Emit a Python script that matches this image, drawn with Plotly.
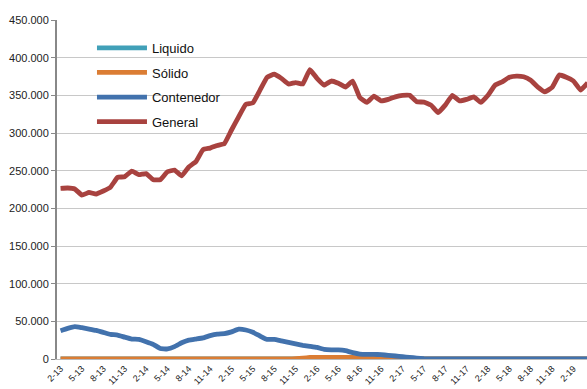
import pandas as pd
import plotly.graph_objects as go

# Monthly categories Feb 2013 - Apr 2019, labelled "m-yy"
months = [f"{d.month}-{d.year % 100:02d}" for d in pd.date_range("2013-02-01", "2019-04-01", freq="MS")]
tick_labels = ["2-13", "5-13", "8-13", "11-13", "2-14", "5-14", "8-14", "11-14",
               "2-15", "5-15", "8-15", "11-15", "2-16", "5-16", "8-16", "11-16",
               "2-17", "5-17", "8-17", "11-17", "2-18", "5-18", "8-18", "11-18", "2-19"]

general = [226500, 227000, 225600, 217600, 221000, 219000, 223000, 228000, 241000, 242000,
           249500, 244600, 246000, 238000, 238000, 248500, 250800, 243000, 255000, 262000,
           278000, 280000, 283500, 286000, 304000, 321500, 338000, 340000, 357000, 374000,
           378000, 372500, 365000, 367000, 365000, 384000, 372500, 363600, 369000, 366000,
           361000, 369000, 347000, 340600, 349000, 342700, 344600, 348000, 350000, 350000,
           341500, 341000, 337000, 327000, 337000, 350000, 342700, 344600, 348000, 340600,
           350000, 363600, 368000, 374000, 375600, 374600, 370000, 361000, 354700, 360500,
           377000, 374000, 369000, 357000, 366600]

contenedor = [37600, 40700, 43000, 41500, 39800, 38000, 35400, 32700, 31800, 29000,
              26500, 26000, 23000, 19500, 14000, 13300, 16400, 21500, 25000, 26500,
              28000, 31000, 33000, 33600, 36000, 39500, 38500, 35400, 30500, 26000,
              26000, 24000, 22000, 20000, 18200, 16800, 15300, 12700, 12000, 12000,
              11000, 8400, 6600, 6200, 6200, 5700, 4900, 4000, 3000, 2200,
              1300, 400, 0, 0, 0, 0, 0, 0, 0, 0,
              0, 0, 0, 0, 0, 0, 0, 0, 0, 0,
              0, 0, 0, 0, 0]

solido = [0] * 33 + [500, 1200, 2000, 2200, 2200, 2200, 2200, 2200, 2000, 1800, 1600,
                     1400, 1200, 1000, 800, 600, 400, 200, 0] + [0] * 23

liquido = [0] * len(months)

series = [
    ("Liquido", liquido, "#41A0B8"),
    ("Sólido", solido, "#DB7D34"),
    ("Contenedor", contenedor, "#4272AD"),
    ("General", general, "#A8423F"),
]

fig = go.Figure()
for i, (name, values, color) in enumerate(series):
    fig.add_trace(go.Scatter(
        x=months, y=values, name=name, mode="lines",
        line=dict(color=color, width=4.8, shape="spline", smoothing=0.3),
        legendgroup=f"g{i}",
    ))

fig.update_layout(
    width=587, height=389,
    margin=dict(l=57, r=0, t=20, b=30),
    paper_bgcolor="white", plot_bgcolor="white",
    separators=",.",
    font=dict(family="Liberation Sans, Arial, sans-serif", color="#222222"),
    showlegend=True,
    legend=dict(
        x=0.066, y=0.962, xanchor="left", yanchor="top",
        bgcolor="rgba(0,0,0,0)", font=dict(size=13, color="#111111"),
        tracegroupgap=4.7, itemwidth=50,
    ),
    xaxis=dict(
        type="category", categoryorder="array", categoryarray=months,
        range=[-0.5, 73.9],
        tickmode="array", tickvals=tick_labels, ticktext=tick_labels,
        tickangle=-45, tickfont=dict(size=9, color="#222222"),
        showgrid=False, ticks="", showline=True, linecolor="#BBBBBB", linewidth=1,
        zeroline=False,
    ),
    yaxis=dict(
        range=[0, 450000], dtick=50000, tickformat=",.0f",
        tickfont=dict(size=11, color="#222222"),
        showgrid=True, gridcolor="#C8C8C8", gridwidth=1,
        showline=True, linecolor="#888888", linewidth=2,
        ticks="outside", ticklen=4, tickcolor="#888888",
        zeroline=False,
    ),
)

fig.write_html("out.html")
